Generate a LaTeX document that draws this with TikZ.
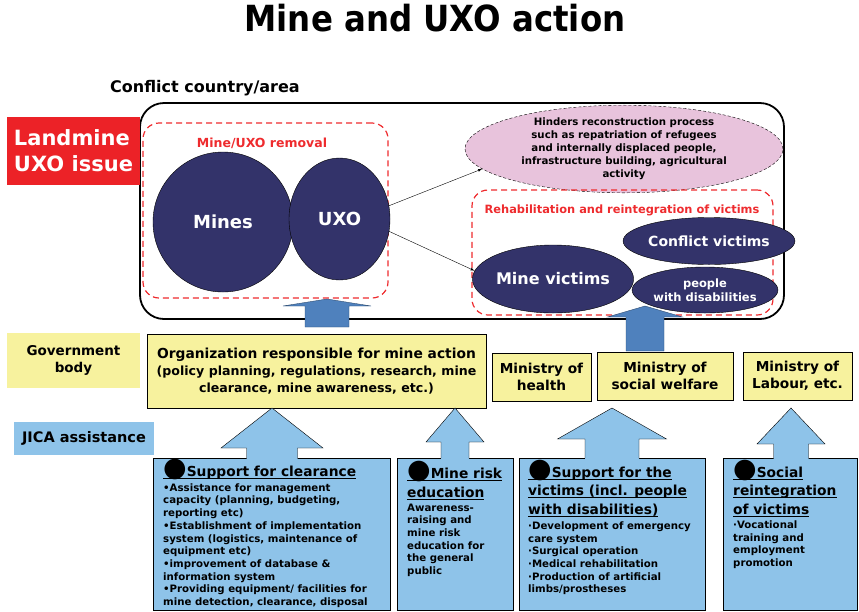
\documentclass[tikz,border=0pt]{standalone}
\usepackage{fontspec}
\setmainfont{DejaVu Sans}
\newfontfamily\titlefont{DejaVu Sans Condensed}
\usetikzlibrary{shapes.geometric}
\definecolor{issueRed}{HTML}{EC2227}
\definecolor{removalRed}{HTML}{EE2B2E}
\definecolor{mineNavy}{HTML}{33336A}
\definecolor{hinderPink}{HTML}{E8C3DC}
\definecolor{govYellow}{HTML}{F7F29E}
\definecolor{jicaBlue}{HTML}{8EC3E9}
\definecolor{flowBlue}{HTML}{4F81BD}
\newcommand{\fsz}[2]{\fontsize{#1}{#2}\selectfont\bfseries}
\newcommand{\bigdot}{{\fontsize{27}{18}\selectfont ●}}
\newcommand{\hdline}[1]{\setbox0\hbox{#1}\rlap{\rule[-2.6pt]{\wd0}{1.1pt}}\box0}

\begin{document}
\begin{tikzpicture}[x=1pt,y=-1pt,
    govbox/.style={draw, fill=govYellow, align=center, font=\fsz{13.7}{17}},
    jicabox/.style={draw, fill=jicaBlue, anchor=north west, minimum height=152},
    navyball/.style={ellipse, draw, fill=mineNavy, inner sep=0, text=white, align=center},
    redframe/.style={draw=removalRed, line width=1.2pt, dash pattern=on 6pt off 4pt, rounded corners=16pt},
    headtxt/.style={anchor=base west, inner sep=0, align=left, font=\fsz{13.8}{18.5}},
    bodytxt/.style={anchor=north west, inner sep=0, align=left, font=\fsz{10.2}{12.7}},
    flowarrow/.style={fill=flowBlue, draw=flowBlue!60!black, thin}]
\useasboundingbox (0,0) rectangle (859,611);

% heading
\node[font=\titlefont\fsz{36}{40}] (title) at (435,18.5) {Mine and UXO action};
\node[font=\fsz{16}{19}, anchor=base west, inner sep=0] (area) at (110,92) {Conflict country/area};

% conflict country
\node[draw, line width=1.8pt, rounded corners=24pt, minimum width=644, minimum height=216] (country) at (462,211) {};
\node[fill=issueRed, text=white, minimum width=133, minimum height=68, align=left, font=\fsz{21}{26}] (issue) at (73.5,151) {Landmine\\UXO issue};

\node[redframe, minimum width=245, minimum height=175] (removal) at (265.5,210.5) {};
\node[text=removalRed, font=\fsz{12.5}{15}, anchor=base] (removaltxt) at (262,147) {Mine/UXO removal};
\node[navyball, circle, minimum size=140, font=\fsz{18}{20}] (mines) at (223,222) {Mines};
\node[navyball, minimum width=101, minimum height=122, font=\fsz{18}{20}] (uxo) at (339.5,219) {UXO};

\node[ellipse, draw, densely dashed, fill=hinderPink, minimum width=318, minimum height=82, inner sep=0, align=center, font=\fsz{10.2}{13}] (hinder) at (624,149) {Hinders reconstruction process\\such as repatriation of refugees\\and internally displaced people,\\infrastructure building, agricultural\\activity};

\node[redframe, minimum width=301, minimum height=125] (rehab) at (622.5,252.5) {};
\node[text=removalRed, font=\fsz{11.4}{13}, anchor=base] (rehabtxt) at (622,213) {Rehabilitation and reintegration of victims};
\node[navyball, minimum width=150, minimum height=68, font=\fsz{16}{18}] (minevic) at (553,279) {Mine victims};
\node[navyball, minimum width=136, minimum height=47, font=\fsz{14}{16}] (conflvic) at (709,241) {Conflict victims};
\node[navyball, minimum width=115, minimum height=46, font=\fsz{11.5}{14}] (disab) at (705,290) {people\\with disabilities};

\draw[-latex] (uxo.15) -- (hinder.188);
\draw[-latex] (uxo.-14) -- (minevic.174);

% arrows into the conflict area
\foreach \tx/\ty/\hw/\sw/\hy/\by in {327/299/44/22/306/327, 645/306/37.5/19/317/351}
  \draw[flowarrow] (\tx,\ty) -- (\tx+\hw,\hy) -- (\tx+\sw,\hy) -- (\tx+\sw,\by) -- (\tx-\sw,\by) -- (\tx-\sw,\hy) -- (\tx-\hw,\hy) -- cycle;

% government body
\node[fill=govYellow, minimum width=133, minimum height=55, align=center, font=\fsz{13.5}{17}] (govtxt) at (73.5,360.5) {Government\\body};
\node[govbox, minimum width=339, minimum height=74, font=\fsz{12.6}{17}] (org) at (316.5,371) {{\fontsize{13.8}{17}\selectfont Organization responsible for mine action}\\(policy planning, regulations, research, mine\\clearance, mine awareness, etc.)};
\node[govbox, minimum width=99, minimum height=48] (health) at (541.5,377) {Ministry of\\health};
\node[govbox, minimum width=136, minimum height=48] (welfare) at (665,376) {Ministry of\\social welfare};
\node[govbox, minimum width=109, minimum height=48] (labour) at (797.5,376) {Ministry of\\Labour, etc.};

% JICA assistance
\node[fill=jicaBlue, minimum width=140, minimum height=33, font=\fsz{14.5}{16}] (jicatxt) at (84,438.5) {JICA assistance};
\node[jicabox, minimum width=237] (clear) at (153,458) {};
\node[jicabox, minimum width=116] (risk) at (397,458) {};
\node[jicabox, minimum width=186] (victims) at (519,458) {};
\node[jicabox, minimum width=134] (social) at (723,458) {};

\foreach \tx/\hw/\sw/\hy in {272/51/25.5/448, 455/29/14/442, 612/54.5/27/439, 791/34/17.5/444} {
  \fill[jicaBlue] (\tx,408) -- (\tx+\hw,\hy) -- (\tx+\sw,\hy) -- (\tx+\sw,459) -- (\tx-\sw,459) -- (\tx-\sw,\hy) -- (\tx-\hw,\hy) -- cycle;
  \draw (\tx-\sw,458) -- (\tx-\sw,\hy) -- (\tx-\hw,\hy) -- (\tx,408) -- (\tx+\hw,\hy) -- (\tx+\sw,\hy) -- (\tx+\sw,458);
}

\node[headtxt] (clearhead) at (163,476) {\hdline{\bigdot Support for clearance}};
\node[bodytxt] (clearbody) at (163,483.3) {•Assistance for management\\capacity (planning, budgeting,\\reporting etc)\\•Establishment of implementation\\system (logistics, maintenance of\\equipment etc)\\•improvement of database \&\\information system\\•Providing equipment/ facilities for\\mine detection, clearance, disposal};

\node[headtxt] (riskhead) at (407,497) {\hdline{\bigdot Mine risk}\\\hdline{education}};
\node[bodytxt] (riskbody) at (407,503.5) {Awareness-\\raising and\\mine risk\\education for\\the general\\public};

\node[headtxt] (victimshead) at (528,514) {\hdline{\bigdot Support for the}\\\hdline{victims (incl. people}\\\hdline{with disabilities)}};
\node[bodytxt] (victimsbody) at (528,521.5) {·Development of emergency\\care system\\·Surgical operation\\·Medical rehabilitation\\·Production of artificial\\limbs/prostheses};

\node[headtxt] (socialhead) at (733,514) {\hdline{\bigdot Social}\\\hdline{reintegration}\\\hdline{of victims}};
\node[bodytxt] (socialbody) at (733,520.5) {·Vocational\\training and\\employment\\promotion};
\end{tikzpicture}
\end{document}
